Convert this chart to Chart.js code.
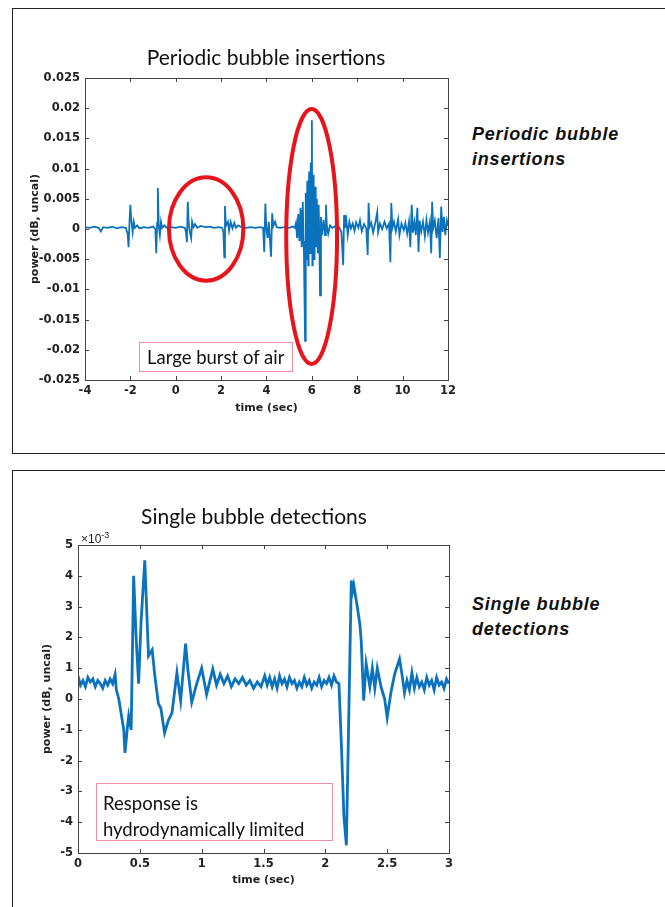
<!DOCTYPE html>
<html>
<head>
<meta charset="utf-8">
<script src="https://cdn.jsdelivr.net/npm/chart.js@4.4.0/dist/chart.umd.min.js"></script>
<style>
  html, body { margin: 0; padding: 0; background: #fff; }
  body { width: 665px; height: 907px; position: relative; overflow: hidden; }
  .panel { position: absolute; left: 12px; width: 700px; border: 1.5px solid #222; }
  canvas { position: absolute; left: 20px; }
  .title { position: absolute; left: 0; text-align: center; font: 21px Lato, sans-serif; line-height: 26px; color: #111; }
  .side { position: absolute; left: 472px; font: italic bold 18px "Liberation Sans", Arial, sans-serif; letter-spacing: 0.8px; line-height: 25px; color: #111; }
  .note { position: absolute; border: 1px solid #ee8ea4; font: 18.5px Lato, sans-serif; color: #111; box-sizing: border-box; }
  .expo { position: absolute; left: 81px; top: 530px; font: 12px "Liberation Sans", Arial, sans-serif; color: #222; }
</style>
</head>
<body>
<div class="panel" style="top:8px;height:444px"></div>
<div class="panel" style="top:470px;height:500px"></div>

<canvas id="topChart" width="440" height="395" style="top:30px"></canvas>
<canvas id="bottomChart" width="440" height="415" style="top:490px"></canvas>

<div class="title" style="top:44px;width:532px">Periodic bubble insertions</div>
<div class="title" style="top:503px;width:508px">Single bubble detections</div>

<div class="side" style="top:122px">Periodic bubble<br>insertions</div>
<div class="side" style="top:592px">Single bubble<br>detections</div>

<div class="note" style="left:139px;top:342px;width:154px;height:30px;padding:3px 0 0 7px;line-height:23px">Large burst of air</div>
<div class="note" style="left:96px;top:783px;width:237px;height:58px;padding:6px 0 0 6px;line-height:26px">Response is<br>hydrodynamically limited</div>
<div class="expo">&times;10<sup style="font-size:9px">-3</sup></div>

<script>
// periodic bubble insertions: [time (sec), power (dB, uncal)]
const topSignal = [
  [-4.0, 0.0003], [-3.8, 0.0002], [-3.6, 0.0004], [-3.4, 0.0002], [-3.3, -0.0004], [-3.2, 0.0003],
  [-3.0, 0.0002], [-2.8, 0.0004], [-2.6, 0.0001], [-2.4, 0.0003], [-2.2, 0.0002], [-2.12, -0.0008],
  [-2.08, -0.003], [-2.04, 0.001], [-2.0, 0.004], [-1.96, 0.0015], [-1.9, -0.0005], [-1.85, 0.0012],
  [-1.8, 0.0002], [-1.7, 0.0006], [-1.6, 0.0001], [-1.4, 0.0003], [-1.2, 0.0002], [-1.0, 0.0004],
  [-0.9, 0.0], [-0.86, -0.004], [-0.82, 0.001], [-0.79, 0.0068], [-0.75, 0.0005], [-0.7, -0.001],
  [-0.65, 0.0012], [-0.6, 0.0002], [-0.5, 0.0006], [-0.4, 0.0002], [-0.2, 0.0003], [0.0, 0.0002],
  [0.2, 0.0004], [0.4, 0.0002], [0.45, -0.0005], [0.49, -0.0022], [0.53, 0.0045], [0.57, 0.001],
  [0.62, -0.0005], [0.68, -0.0015], [0.72, 0.0012], [0.78, 0.0003], [0.85, 0.0008], [0.95, 0.0002],
  [1.1, 0.0005], [1.3, 0.0003], [1.5, 0.0004], [1.7, 0.0002], [1.9, 0.0003], [2.05, 0.0002],
  [2.1, -0.0005], [2.14, -0.0047], [2.17, 0.0038], [2.21, 0.0005], [2.3, 0.0012], [2.35, -0.0003],
  [2.42, 0.0012], [2.5, 0.0001], [2.58, 0.001], [2.65, 0.0002], [2.75, 0.0006], [2.9, 0.0003],
  [3.1, 0.0002], [3.3, 0.0003], [3.5, 0.0002], [3.7, 0.0003], [3.85, 0.0002], [3.9, -0.0038],
  [3.95, 0.0042], [3.99, 0.0003], [4.05, -0.0015], [4.1, 0.0012], [4.2, -0.0046], [4.25, 0.0026],
  [4.3, 0.0005], [4.38, 0.0012], [4.45, 0.0003], [4.6, 0.0002], [4.8, 0.0003], [5.0, 0.0002],
  [5.15, 0.0004], [5.25, 0.0002], [5.3, 0.001], [5.35, -0.0015], [5.4, 0.0025], [5.45, -0.002],
  [5.5, 0.0035], [5.53, -0.001], [5.55, -0.003], [5.58, 0.003], [5.6, 0.0045], [5.63, -0.002],
  [5.65, -0.004], [5.7, -0.0185], [5.72, 0.006], [5.74, 0.002], [5.76, -0.005], [5.78, 0.004],
  [5.8, 0.008], [5.82, 0.0], [5.84, -0.006], [5.86, 0.005], [5.88, 0.0095], [5.9, 0.001],
  [5.92, -0.004], [5.94, 0.006], [5.96, 0.011], [5.98, 0.004], [6.0, 0.018], [6.02, -0.006],
  [6.04, 0.003], [6.06, 0.009], [6.08, 0.0], [6.1, -0.005], [6.12, 0.003], [6.14, 0.007],
  [6.16, 0.0], [6.18, -0.003], [6.2, 0.002], [6.22, 0.005], [6.24, -0.001], [6.26, -0.004],
  [6.28, 0.001], [6.3, 0.004], [6.33, -0.002], [6.36, -0.011], [6.4, 0.002], [6.45, -0.001],
  [6.52, 0.0015], [6.58, -0.001], [6.62, 0.004], [6.66, 0.0005], [6.72, -0.0008], [6.8, 0.0006],
  [6.9, 0.0002], [7.0, 0.0004], [7.1, 0.0002], [7.2, 0.0003], [7.3, -0.0005], [7.38, -0.006],
  [7.42, 0.0023], [7.46, 0.0002], [7.52, 0.0015], [7.58, -0.001], [7.65, 0.0012], [7.72, 0.0001],
  [7.8, 0.0009], [7.88, -0.0003], [7.95, 0.0011], [8.05, 0.0002], [8.12, 0.0014], [8.2, -0.0004],
  [8.3, 0.0008], [8.4, 0.0001], [8.46, -0.0043], [8.5, 0.0043], [8.55, 0.0004], [8.62, 0.001],
  [8.7, -0.0006], [8.8, 0.0011], [8.88, 0.0028], [8.92, -0.0005], [9.0, 0.0009], [9.1, 0.0],
  [9.2, 0.0012], [9.3, 0.0001], [9.4, 0.0009], [9.46, -0.0055], [9.5, 0.0043], [9.55, 0.0002],
  [9.62, 0.0012], [9.7, -0.0004], [9.8, 0.0016], [9.86, -0.001], [9.95, 0.0009], [10.05, -0.0002],
  [10.12, 0.001], [10.2, -0.0008], [10.28, 0.0012], [10.34, -0.003], [10.4, 0.004], [10.45, -0.0006],
  [10.52, 0.0012], [10.58, -0.001], [10.65, 0.0035], [10.7, -0.0038], [10.75, 0.0014], [10.82, -0.0004],
  [10.9, 0.0012], [10.98, -0.0012], [11.05, 0.0015], [11.12, -0.0006], [11.2, 0.0012], [11.26, -0.004],
  [11.3, 0.0045], [11.35, 0.0002], [11.42, 0.0014], [11.5, -0.0015], [11.58, 0.0018], [11.64, -0.0048],
  [11.7, 0.0037], [11.76, -0.0005], [11.82, 0.002], [11.88, -0.001], [11.95, 0.0014], [12.0, 0.0005]
];

// single bubble detections: [time (sec), power x10^-3]
const bottomSignal = [
  [0.00, 0.75], [0.02, 0.45], [0.04, 0.6], [0.06, 0.4], [0.08, 0.7], [0.10, 0.55], [0.12, 0.65],
  [0.14, 0.4], [0.16, 0.6], [0.18, 0.5], [0.20, 0.35], [0.22, 0.6], [0.24, 0.45], [0.26, 0.65],
  [0.28, 0.5], [0.30, 0.8], [0.31, 0.3], [0.33, 0.0], [0.35, -0.5], [0.37, -1.0], [0.38, -1.75],
  [0.40, -0.9], [0.41, -0.55], [0.43, -1.0], [0.45, 4.0], [0.47, 2.0], [0.49, 0.5], [0.51, 2.5],
  [0.54, 4.5], [0.57, 1.4], [0.60, 1.6], [0.62, 0.8], [0.65, -0.15], [0.67, -0.3], [0.70, -1.1],
  [0.73, -0.7], [0.76, -0.45], [0.80, 0.85], [0.83, -0.05], [0.87, 1.8], [0.89, 0.9], [0.92, -0.1],
  [0.96, 0.5], [1.00, 1.0], [1.04, 0.15], [1.09, 0.97], [1.12, 0.45], [1.15, 0.8], [1.18, 0.5],
  [1.21, 0.75], [1.24, 0.4], [1.27, 0.65], [1.30, 0.5], [1.33, 0.7], [1.36, 0.45], [1.39, 0.6],
  [1.42, 0.35], [1.45, 0.55], [1.48, 0.4], [1.51, 0.75], [1.53, 0.45], [1.55, 0.7], [1.57, 0.4],
  [1.59, 0.65], [1.61, 0.35], [1.63, 0.75], [1.65, 0.5], [1.67, 0.65], [1.69, 0.4], [1.71, 0.7],
  [1.73, 0.5], [1.75, 0.6], [1.77, 0.35], [1.79, 0.55], [1.81, 0.4], [1.83, 0.7], [1.85, 0.45],
  [1.87, 0.6], [1.89, 0.35], [1.91, 0.55], [1.93, 0.45], [1.95, 0.7], [1.97, 0.4], [1.99, 0.6],
  [2.01, 0.5], [2.03, 0.7], [2.05, 0.45], [2.07, 0.75], [2.09, 0.55], [2.11, 0.5], [2.13, -1.5],
  [2.15, -3.8], [2.17, -4.75], [2.19, -0.5], [2.21, 3.85], [2.22, 3.5], [2.23, 3.7], [2.26, 2.95],
  [2.28, 2.4], [2.29, 1.9], [2.31, -0.05], [2.33, 1.15], [2.36, 0.4], [2.38, 1.0], [2.40, 0.35],
  [2.42, 1.0], [2.45, 0.4], [2.48, 0.0], [2.50, -0.6], [2.53, 0.2], [2.56, 0.8], [2.60, 1.3],
  [2.62, 0.8], [2.64, 0.2], [2.66, 0.6], [2.68, 0.3], [2.70, 0.85], [2.72, 0.35], [2.74, 0.7],
  [2.76, 0.4], [2.78, 0.55], [2.80, 0.3], [2.82, 0.7], [2.84, 0.45], [2.86, 0.6], [2.88, 0.3],
  [2.90, 0.7], [2.92, 0.45], [2.94, 0.55], [2.96, 0.35], [2.98, 0.65], [3.00, 0.5]
];

const topYLabels = ['-0.025', '-0.02', '-0.015', '-0.01', '-0.005', '0', '0.005', '0.01', '0.015', '0.02', '0.025'];
const topXLabels = ['-4', '-2', '0', '2', '4', '6', '8', '10', '12'];
const bottomYLabels = ['-5', '-4', '-3', '-2', '-1', '0', '1', '2', '3', '4', '5'];
const bottomXLabels = ['0', '0.5', '1', '1.5', '2', '2.5', '3'];

// red rings around the bursts: centre and half-sizes in data units
const topRings = [
  { t: 1.34, v: 0.0, dt: 1.64, dv: 0.00855 },
  { t: 5.99, v: -0.00125, dt: 1.12, dv: 0.0211 }
];

const tickFont = { family: 'DejaVu Sans', size: 11.5, weight: 'bold' };
const axisTitleFont = { family: 'DejaVu Sans', size: 11, weight: 'bold' };

// matlab style box with inner tick marks
const boxPlugin = {
  id: 'box',
  afterDatasetsDraw(chart) {
    const { ctx, chartArea: a, scales } = chart;
    ctx.save();
    ctx.strokeStyle = '#444';
    ctx.lineWidth = 1;
    ctx.strokeRect(a.left + 0.5, a.top + 0.5, a.right - a.left, a.bottom - a.top);
    ctx.beginPath();
    scales.x.ticks.forEach(t => {
      const px = Math.round(scales.x.getPixelForValue(t.value)) + 0.5;
      ctx.moveTo(px, a.bottom); ctx.lineTo(px, a.bottom - 4);
      ctx.moveTo(px, a.top); ctx.lineTo(px, a.top + 4);
    });
    scales.y.ticks.forEach(t => {
      const py = Math.round(scales.y.getPixelForValue(t.value)) + 0.5;
      ctx.moveTo(a.left, py); ctx.lineTo(a.left + 4, py);
      ctx.moveTo(a.right, py); ctx.lineTo(a.right - 4, py);
    });
    ctx.stroke();
    ctx.restore();
  }
};

const ringPlugin = {
  id: 'rings',
  afterDatasetsDraw(chart, args, opts) {
    if (!opts.rings) return;
    const { ctx, scales: { x, y } } = chart;
    ctx.save();
    ctx.strokeStyle = '#e8141b';
    ctx.lineWidth = 4;
    opts.rings.forEach(r => {
      const cx = x.getPixelForValue(r.t);
      const cy = y.getPixelForValue(r.v);
      const rx = x.getPixelForValue(r.t + r.dt) - cx;
      const ry = cy - y.getPixelForValue(r.v + r.dv);
      ctx.beginPath();
      ctx.ellipse(cx, cy, rx, ry, 0, 0, Math.PI * 2);
      ctx.stroke();
    });
    ctx.restore();
  }
};

function makeChart(id, cfg) {
  return new Chart(document.getElementById(id), {
    type: 'line',
    data: {
      datasets: [{
        data: cfg.points.map(p => ({ x: p[0], y: p[1] })),
        borderColor: '#0b72bd',
        borderWidth: cfg.lineWidth,
        pointRadius: 0,
        tension: 0
      }]
    },
    options: {
      responsive: false,
      animation: false,
      layout: { padding: { top: cfg.padTop, right: cfg.padRight } },
      plugins: {
        legend: { display: false },
        tooltip: { enabled: false },
        rings: { rings: cfg.rings }
      },
      scales: {
        x: {
          type: 'linear',
          min: cfg.xMin, max: cfg.xMax,
          afterFit: s => { s.height = cfg.xHeight; },
          grid: { display: false, drawTicks: false },
          border: { display: false },
          ticks: {
            stepSize: cfg.xStep, padding: 4, color: '#222', font: tickFont,
            callback: (v, i) => cfg.xLabels[i]
          },
          title: { display: true, text: 'time (sec)', color: '#222', font: axisTitleFont, padding: { top: 0, bottom: cfg.xTitlePad } }
        },
        y: {
          min: cfg.yMin, max: cfg.yMax,
          afterFit: s => { s.width = cfg.yWidth; },
          grid: { display: false, drawTicks: false },
          border: { display: false },
          ticks: {
            stepSize: cfg.yStep, padding: 5, color: '#222', font: tickFont,
            callback: (v, i) => cfg.yLabels[i]
          },
          title: { display: true, text: 'power (dB, uncal)', color: '#222', font: axisTitleFont, padding: { top: cfg.yTitlePad, bottom: 0 } }
        }
      }
    },
    plugins: [boxPlugin, ringPlugin]
  });
}

makeChart('topChart', {
  points: topSignal, lineWidth: 1.8,
  xMin: -4, xMax: 12, xStep: 2, xLabels: topXLabels,
  yMin: -0.025, yMax: 0.025, yStep: 0.005, yLabels: topYLabels,
  padTop: 48, xHeight: 45, yWidth: 65, padRight: 10,
  xTitlePad: 10, yTitlePad: 9, rings: topRings
});

makeChart('bottomChart', {
  points: bottomSignal, lineWidth: 2.8,
  xMin: 0, xMax: 3, xStep: 0.5, xLabels: bottomXLabels,
  yMin: -5, yMax: 5, yStep: 1, yLabels: bottomYLabels,
  padTop: 55, xHeight: 52, yWidth: 58, padRight: 11,
  xTitlePad: 18, yTitlePad: 21, rings: null
});
</script>
</body>
</html>
